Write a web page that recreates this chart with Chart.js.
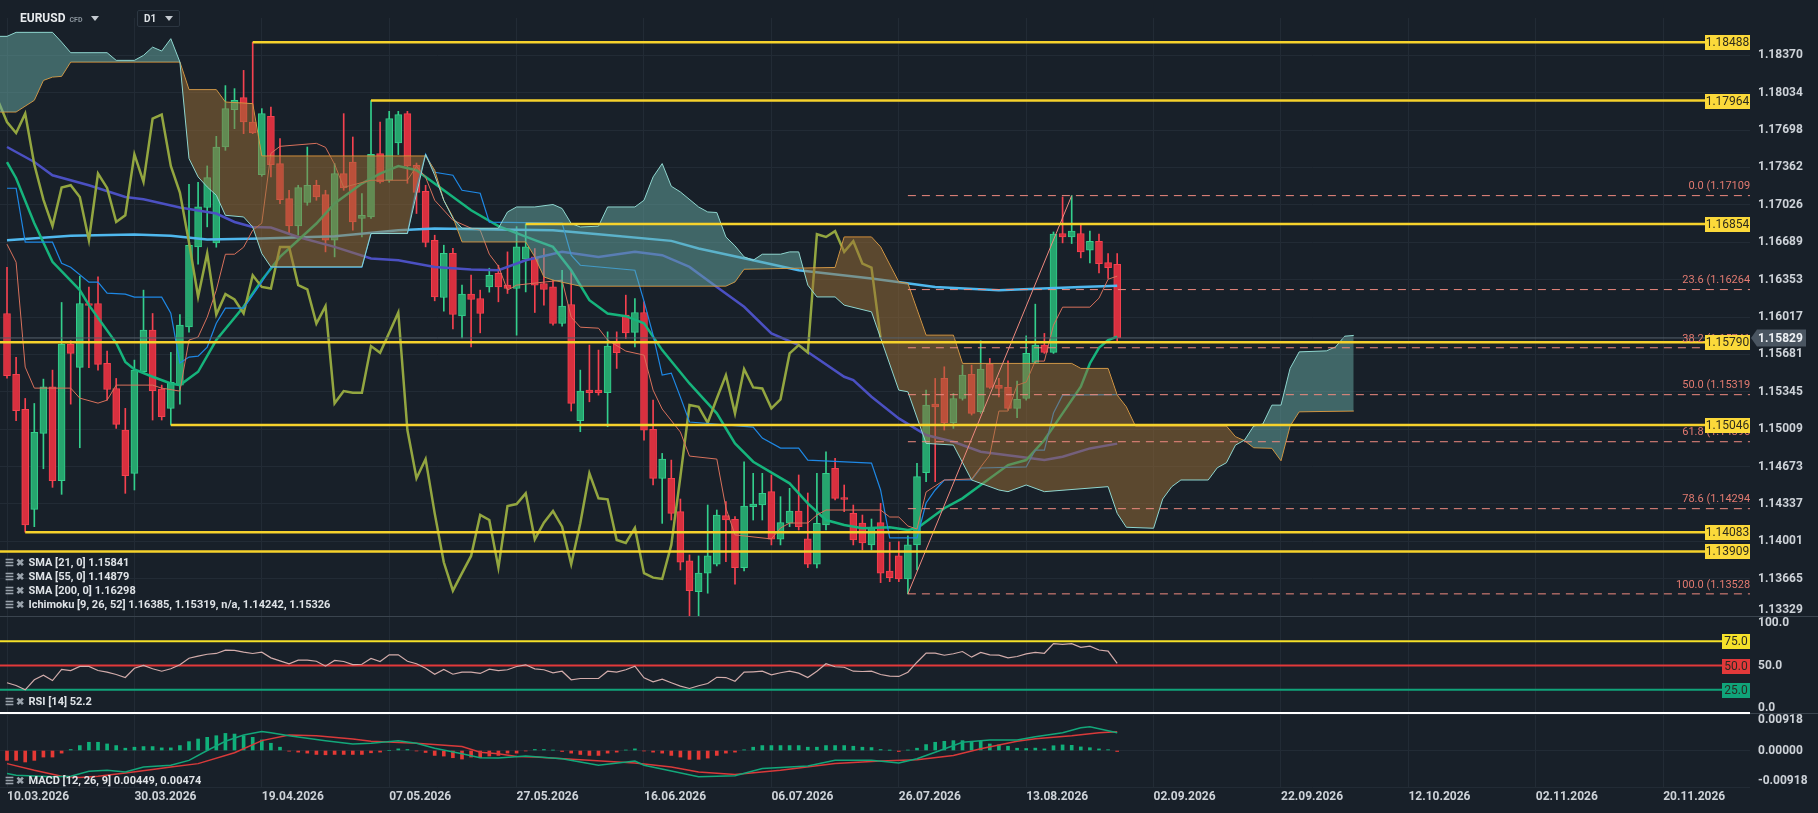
<!DOCTYPE html>
<html>
<head>
<meta charset="utf-8">
<title>EURUSD D1</title>
<script src="https://cdn.jsdelivr.net/npm/chart.js@4.4.1/dist/chart.umd.min.js"></script>
<style>
  html, body { margin: 0; padding: 0; background: #182029; }
  body { width: 1818px; height: 813px; position: relative; overflow: hidden; font-family: Roboto, "Noto Sans", sans-serif; }
  .pane { position: absolute; left: 0; width: 1818px; }
  #mainPane { top: 0; height: 616px; }
  #rsiPane { top: 617px; height: 97px; }
  #macdPane { top: 714px; height: 99px; }
  .sep { position: absolute; height: 1px; background: #3a444e; }
  .legend { position: absolute; left: 5px; font-size: 11px; font-weight: bold; color: #dfe3e7; line-height: 14px; white-space: nowrap; }
  .legend .ico { color: #9aa3ac; font-size: 10px; margin-right: 4px; }
  #symbol { position: absolute; left: 20px; top: 11px; font-size: 12px; font-weight: bold; color: #e8ebee; }
  #symbol small { font-size: 7px; color: #8b949d; margin-left: 4px; }
  .caret { display: inline-block; width: 0; height: 0; border-left: 4px solid transparent; border-right: 4px solid transparent; border-top: 5px solid #c5cbd1; vertical-align: middle; }
  #tf { position: absolute; left: 137px; top: 10px; width: 41px; height: 15px; border: 1px solid #2c3641; border-radius: 2px; font-size: 10px; font-weight: bold; color: #dfe3e7; line-height: 15px; }
</style>
</head>
<body>
<div class="pane" id="mainPane"><canvas id="mainChart"></canvas></div>
<div class="pane" id="rsiPane"><canvas id="rsiChart"></canvas></div>
<div class="pane" id="macdPane"><canvas id="macdChart"></canvas></div>
<div class="sep" style="left:0;top:616px;width:1818px"></div>
<div class="sep" style="left:1750px;top:713px;width:68px"></div>

<div id="symbol">EURUSD<small>CFD</small><span class="caret" style="margin-left:9px"></span></div>
<div id="tf"><span style="margin-left:6px">D1</span><span class="caret" style="position:absolute;right:6px;top:5px"></span></div>

<div class="legend" style="top:556px"><span class="ico">☰ ✖</span>SMA [21, 0] 1.15841</div>
<div class="legend" style="top:570px"><span class="ico">☰ ✖</span>SMA [55, 0] 1.14879</div>
<div class="legend" style="top:584px"><span class="ico">☰ ✖</span>SMA [200, 0] 1.16298</div>
<div class="legend" style="top:598px"><span class="ico">☰ ✖</span>Ichimoku [9, 26, 52] 1.16385, 1.15319, n/a, 1.14242, 1.15326</div>
<div class="legend" style="top:695px"><span class="ico">☰ ✖</span>RSI [14] 52.2</div>
<div class="legend" style="top:774px"><span class="ico">☰ ✖</span>MACD [12, 26, 9] 0.00449, 0.00474</div>

<script>
// ---- data ----
const dateLabels = ['10.03.2026', '30.03.2026', '19.04.2026', '07.05.2026', '27.05.2026', '16.06.2026', '06.07.2026',
  '26.07.2026', '13.08.2026', '02.09.2026', '22.09.2026', '12.10.2026', '02.11.2026', '20.11.2026'];

const opens = [
  1.16049, 1.15501, 1.15187, 1.14288, 1.14971, 1.15390, 1.14546, 1.15774, 1.15564, 1.16139,
  1.16139, 1.15600, 1.15375, 1.15001, 1.14611, 1.15525, 1.15899, 1.15369, 1.15196, 1.15405,
  1.15929, 1.16647, 1.17002, 1.16684, 1.17546, 1.17882, 1.17990, 1.17771, 1.17298, 1.17822,
  1.17397, 1.17082, 1.16836, 1.17047, 1.17202, 1.17118, 1.16708, 1.17307, 1.17411, 1.16903,
  1.16917, 1.17487, 1.17247, 1.17582, 1.17846, 1.17382, 1.17148, 1.16708, 1.16193, 1.16589,
  1.16028, 1.16223, 1.16184, 1.16288, 1.16411, 1.16304, 1.16274, 1.16537, 1.16558, 1.16319,
  1.16288, 1.15959, 1.16130, 1.15085, 1.15360, 1.15360, 1.15336, 1.15785, 1.16034, 1.15879,
  1.16058, 1.15007, 1.14567, 1.14567, 1.14267, 1.13824, 1.13548, 1.13714, 1.13794, 1.14231,
  1.14199, 1.13764, 1.14312, 1.14327, 1.14447, 1.14019, 1.14163, 1.14273, 1.14022, 1.13794,
  1.14147, 1.14657, 1.14393, 1.14253, 1.14165, 1.13968, 1.14168, 1.13734, 1.13869, 1.13662,
  1.13968, 1.14618, 1.15234, 1.15465, 1.15067, 1.15285, 1.15501, 1.15166, 1.15591, 1.15402,
  1.15384, 1.15196, 1.15285, 1.15609, 1.15765, 1.15699, 1.16768, 1.16737, 1.16768, 1.16618,
  1.16699, 1.16507, 1.16492];
const highs = [
  1.16465, 1.15654, 1.15285, 1.15240, 1.15459, 1.15540, 1.16148, 1.15804, 1.16384, 1.16286,
  1.16378, 1.15711, 1.15465, 1.15196, 1.15630, 1.16259, 1.16049, 1.15405, 1.15699, 1.16040,
  1.17211, 1.17229, 1.17376, 1.17642, 1.18098, 1.18071, 1.18235, 1.18488, 1.17891, 1.17905,
  1.17621, 1.17157, 1.17202, 1.17546, 1.17247, 1.17157, 1.17397, 1.17846, 1.17636, 1.17127,
  1.17964, 1.17771, 1.17867, 1.17867, 1.17867, 1.17402, 1.17202, 1.16753, 1.16663, 1.16636,
  1.16304, 1.16394, 1.16259, 1.16456, 1.16483, 1.16603, 1.16830, 1.16854, 1.16633, 1.16633,
  1.16349, 1.16438, 1.16438, 1.15540, 1.15765, 1.15720, 1.15884, 1.15884, 1.16214, 1.16184,
  1.16154, 1.15270, 1.14791, 1.14731, 1.14381, 1.13878, 1.13869, 1.14327, 1.14282, 1.14357,
  1.14222, 1.14716, 1.14612, 1.14612, 1.14597, 1.14402, 1.14477, 1.14597, 1.14435, 1.14612,
  1.14806, 1.14747, 1.14507, 1.14327, 1.14237, 1.14201, 1.14342, 1.13992, 1.13998, 1.14049,
  1.14702, 1.15360, 1.15465, 1.15570, 1.15330, 1.15585, 1.15585, 1.15804, 1.15645, 1.15465,
  1.15624, 1.15441, 1.15848, 1.16133, 1.15870, 1.16782, 1.17097, 1.17109, 1.16858, 1.16789,
  1.16762, 1.16588, 1.16588];
const lows = [
  1.15468, 1.15085, 1.14083, 1.14132, 1.14653, 1.14486, 1.14423, 1.15234, 1.14842, 1.15561,
  1.15540, 1.15270, 1.15016, 1.14432, 1.14462, 1.15513, 1.15091, 1.15091, 1.15046, 1.15234,
  1.15882, 1.16492, 1.16828, 1.16645, 1.17516, 1.17711, 1.17666, 1.17666, 1.17283, 1.17277,
  1.17037, 1.16768, 1.16753, 1.17022, 1.17067, 1.16603, 1.16558, 1.17157, 1.16798, 1.16738,
  1.16905, 1.17220, 1.17229, 1.17478, 1.17220, 1.16948, 1.16648, 1.16163, 1.16070, 1.15911,
  1.15830, 1.15749, 1.15875, 1.16241, 1.16154, 1.16229, 1.15854, 1.16243, 1.16058, 1.16124,
  1.15944, 1.15935, 1.15172, 1.14986, 1.15255, 1.15315, 1.15031, 1.15555, 1.15825, 1.15749,
  1.14911, 1.14507, 1.14162, 1.14192, 1.13743, 1.13330, 1.13330, 1.13534, 1.13779, 1.13818,
  1.13615, 1.13734, 1.14192, 1.14192, 1.13968, 1.13968, 1.14132, 1.14102, 1.13764, 1.13761,
  1.14102, 1.14372, 1.14267, 1.13968, 1.13923, 1.13923, 1.13629, 1.13638, 1.13638, 1.13528,
  1.13743, 1.14537, 1.14537, 1.15001, 1.15016, 1.15270, 1.15136, 1.15151, 1.15375, 1.15300,
  1.15181, 1.15112, 1.15270, 1.15600, 1.15690, 1.15690, 1.16684, 1.16678, 1.16549, 1.16504,
  1.16414, 1.16364, 1.15785];
const closes = [
  1.15489, 1.15175, 1.14147, 1.14980, 1.15390, 1.14546, 1.15774, 1.15690, 1.16139, 1.16121,
  1.15591, 1.15366, 1.15052, 1.14590, 1.15540, 1.15899, 1.15354, 1.15121, 1.15429, 1.15944,
  1.16663, 1.17007, 1.17271, 1.17546, 1.17891, 1.17966, 1.17771, 1.17672, 1.17846, 1.17388,
  1.17073, 1.16836, 1.17181, 1.17202, 1.17097, 1.16708, 1.17307, 1.17178, 1.16872, 1.16932,
  1.17480, 1.17232, 1.17801, 1.17837, 1.17375, 1.17137, 1.16687, 1.16199, 1.16589, 1.16040,
  1.16223, 1.16175, 1.16049, 1.16393, 1.16288, 1.16274, 1.16648, 1.16648, 1.16304, 1.16265,
  1.15959, 1.16115, 1.15241, 1.15351, 1.15336, 1.15336, 1.15756, 1.15696, 1.15875, 1.16058,
  1.15001, 1.14567, 1.14740, 1.14252, 1.13812, 1.13557, 1.13714, 1.13869, 1.14237, 1.14192,
  1.13764, 1.14318, 1.14336, 1.14432, 1.14019, 1.14168, 1.14273, 1.14132, 1.13794, 1.14163,
  1.14612, 1.14387, 1.14378, 1.14013, 1.13986, 1.14121, 1.13714, 1.13674, 1.13662, 1.13968,
  1.14582, 1.15226, 1.15210, 1.15067, 1.15285, 1.15495, 1.15151, 1.15549, 1.15384, 1.15375,
  1.15196, 1.15277, 1.15690, 1.15765, 1.15699, 1.16762, 1.16737, 1.16789, 1.16603, 1.16699,
  1.16498, 1.16462, 1.15829];

// moving averages and Ichimoku lines: [bar, value]
const sma21 = [[0,1.17411],[1,1.17265],[3,1.16861],[5,1.16513],[8,1.16259],[9,1.16124],[12,1.15783],[13,1.15614],[14,1.15546],
  [16,1.15480],[18,1.15420],[19,1.15405],[21,1.15525],[23,1.15810],[26,1.16109],[28,1.16349],[30,1.16558],[34,1.16858],
  [36,1.17038],[39,1.17217],[41,1.17307],[43,1.17375],[45,1.17337],[48,1.17157],[51,1.16977],[54,1.16834],[58,1.16708],
  [60,1.16648],[62,1.16438],[64,1.16169],[66,1.16049],[68,1.16025],[70,1.15960],[72,1.15720],[75,1.15420],[78,1.15151],
  [80,1.14881],[82,1.14716],[86,1.14522],[88,1.14342],[90,1.14192],[92,1.14147],[94,1.14118],[97,1.14127],[99,1.14102],
  [100,1.14118],[103,1.14298],[105,1.14387],[107,1.14507],[110,1.14686],[112,1.14731],[114,1.14911],[116,1.15151],
  [118,1.15390],[119,1.15600],[120,1.15740],[121,1.15810],[122,1.15841]];
const sma55 = [[0,1.17546],[3,1.17411],[5,1.17292],[9,1.17202],[13,1.17097],[15,1.17076],[19,1.17002],[23,1.16948],[25,1.16872],
  [27,1.16827],[29,1.16822],[32,1.16737],[36,1.16648],[40,1.16543],[43,1.16528],[47,1.16468],[51,1.16445],[54,1.16438],
  [57,1.16528],[61,1.16603],[65,1.16558],[69,1.16603],[72,1.16573],[75,1.16468],[78,1.16288],[81,1.16109],[84,1.15870],
  [87,1.15765],[88,1.15702],[92,1.15480],[93,1.15450],[95,1.15300],[98,1.15106],[101,1.14956],[104,1.14896],[107,1.14806],
  [114,1.14731],[116,1.14761],[119,1.14836],[122,1.14879]];
const sma200 = [[0,1.16708],[7,1.16747],[14,1.16759],[18,1.16747],[22,1.16714],[28,1.16723],[36,1.16744],[43,1.16798],
  [47,1.16813],[54,1.16804],[60,1.16798],[65,1.16762],[73,1.16702],[76,1.16633],[82,1.16528],[87,1.16438],[95,1.16364],
  [102,1.16288],[109,1.16259],[111,1.16265],[118,1.16288],[122,1.16298]];
const tenkan = [[0,1.16672],[1,1.16510],[2,1.15567],[3,1.15378],[7,1.15378],[8,1.15288],[10,1.15243],[11,1.15270],[12,1.15405],
  [16,1.15405],[17,1.15378],[19,1.15351],[20,1.15810],[21,1.15837],[22,1.16016],[23,1.16259],[24,1.16582],[25,1.16582],
  [26,1.16645],[27,1.16798],[28,1.16861],[29,1.17489],[30,1.17552],[34,1.17579],[35,1.17543],[36,1.17391],[37,1.17184],
  [40,1.17247],[44,1.17247],[45,1.17373],[46,1.17274],[47,1.17067],[49,1.16888],[51,1.16816],[52,1.16798],[53,1.16582],
  [54,1.16474],[55,1.16259],[56,1.16304],[61,1.16349],[62,1.16016],[63,1.15926],[65,1.15917],[66,1.15810],[68,1.15711],
  [70,1.15675],[71,1.15360],[72,1.15190],[74,1.14983],[75,1.14767],[78,1.14740],[79,1.14300],[80,1.14058],[84,1.14022],
  [85,1.14120],[86,1.14165],[88,1.14165],[89,1.14237],[90,1.14282],[96,1.14282],[97,1.14219],[98,1.14219],[99,1.14138],
  [100,1.14111],[101,1.14444],[102,1.14498],[103,1.14552],[106,1.14561],[107,1.14669],[108,1.14776],[109,1.15172],
  [110,1.15172],[111,1.15405],[112,1.15432],[113,1.15621],[114,1.15621],[115,1.15944],[116,1.16106],[119,1.16106],
  [120,1.16187],[121,1.16357],[122,1.16385]];
const kijun = [[0,1.17175],[1,1.17175],[2,1.16690],[5,1.16690],[6,1.16501],[7,1.16465],[9,1.16331],[10,1.16331],[11,1.16232],
  [13,1.16223],[14,1.16196],[17,1.16196],[18,1.16052],[19,1.15603],[20,1.15657],[21,1.15666],[22,1.15747],[23,1.15962],
  [24,1.16097],[26,1.16097],[28,1.16331],[29,1.16465],[39,1.16465],[40,1.16771],[44,1.16771],[45,1.17184],[46,1.17481],
  [47,1.17319],[49,1.17292],[50,1.17157],[52,1.17130],[53,1.16870],[61,1.16861],[62,1.16573],[63,1.16483],[69,1.16438],
  [70,1.16160],[71,1.15854],[72,1.15495],[73,1.15513],[74,1.15297],[75,1.15073],[82,1.15028],[83,1.14929],[85,1.14839],
  [87,1.14839],[88,1.14731],[95,1.14704],[96,1.14462],[97,1.14031],[100,1.14031],[101,1.14345],[102,1.14462],[103,1.14552],
  [106,1.14552],[107,1.14660],[112,1.14669],[113,1.14821],[114,1.14821],[115,1.15154],[116,1.15315],[122,1.15319]];
const senkouA = [[-1,1.18541],[0,1.18541],[1,1.18577],[5,1.18577],[6,1.18489],[7,1.18394],[11,1.18394],[12,1.18325],[14,1.18325],
  [15,1.18370],[16,1.18444],[17,1.18409],[18,1.18520],[19,1.18310],[20,1.17442],[21,1.17277],[22,1.17187],[23,1.17112],
  [24,1.16932],[26,1.16917],[27,1.16827],[28,1.16588],[29,1.16468],[39,1.16468],[40,1.16768],[44,1.16768],[46,1.17480],
  [47,1.17292],[48,1.17067],[49,1.16905],[50,1.16816],[54,1.16816],[55,1.16962],[56,1.17007],[58,1.17007],[60,1.17029],
  [61,1.16993],[62,1.16858],[63,1.16827],[65,1.16834],[66,1.17007],[69,1.17007],[70,1.17067],[71,1.17277],[72,1.17397],
  [73,1.17193],[74,1.17142],[76,1.17007],[77,1.16962],[78,1.16957],[79,1.16737],[80,1.16657],[81,1.16558],[82,1.16528],
  [83,1.16582],[85,1.16582],[86,1.16603],[87,1.16603],[88,1.16304],[89,1.16198],[91,1.16198],[92,1.16124],[95,1.16064],
  [98,1.15360],[99,1.15345],[101,1.14881],[104,1.14866],[106,1.14552],[107,1.14522],[109,1.14462],[110,1.14447],
  [112,1.14507],[114,1.14447],[121,1.14492],[122,1.14252],[123,1.14127],[126,1.14118],[127,1.14381],[128,1.14492],
  [129,1.14552],[132,1.14552],[133,1.14662],[134,1.14707],[135,1.14866],[136,1.14911],[137,1.15037],[138,1.15055],
  [139,1.15225],[140,1.15225],[141,1.15555],[142,1.15704],[145,1.15713],[146,1.15749],[147,1.15845],[148,1.15852]];
const senkouB = [[-1,1.17861],[1,1.17861],[3,1.17966],[4,1.18145],[5,1.18175],[6,1.18181],[7,1.18310],[19,1.18310],[20,1.18062],
  [23,1.18062],[24,1.17950],[27,1.17936],[28,1.17465],[46,1.17465],[47,1.17337],[48,1.17067],[49,1.16917],[50,1.16693],
  [57,1.16693],[58,1.16558],[59,1.16378],[60,1.16349],[63,1.16295],[79,1.16295],[80,1.16333],[81,1.16447],[91,1.16463],
  [92,1.16737],[95,1.16737],[96,1.16648],[98,1.16333],[99,1.16319],[101,1.15854],[104,1.15854],[105,1.15600],[117,1.15600],
  [118,1.15555],[121,1.15555],[122,1.15315],[123,1.15210],[124,1.15037],[134,1.15037],[135,1.14941],[136,1.14905],
  [137,1.14842],[139,1.14837],[140,1.14725],[141,1.15037],[142,1.15165],[148,1.15172]];

// drawn levels
const levelPrices = [1.18488, 1.17964, 1.16854, 1.15790, 1.15046, 1.14083, 1.13909];
const levelStartBar = [27, 40, 57, null, 18, 2, null];
const fibRatios = ['0.0', '23.6', '38.2', '50.0', '61.8', '78.6', '100.0'];
const fibPrices = [1.17109, 1.16264, 1.15741, 1.15319, 1.14896, 1.14294, 1.13528];
const fibLowBar = 99, fibHighBar = 117;
const lastPrice = 1.15829;

const priceTicks = ['1.13329', '1.13665', '1.14001', '1.14337', '1.14673', '1.15009', '1.15345', '1.15681',
  '1.16017', '1.16353', '1.16689', '1.17026', '1.17362', '1.17698', '1.18034', '1.18370'];

// RSI and MACD
const rsi = [32.2, 29.4, 24.9, 35.3, 40.0, 34.5, 45.9, 44.8, 49.0, 49.0, 44.8, 43.1, 40.7, 37.6, 47.2, 50.0, 46.6, 44.1, 46.6, 50.7,
  57.5, 59.6, 61.6, 62.4, 65.8, 65.5, 63.7, 62.4, 63.7, 57.9, 54.8, 51.8, 55.5, 55.5, 54.4, 49.3, 55.2, 54.1, 51.0, 51.3,
  57.2, 54.1, 61.0, 61.0, 54.4, 51.8, 47.2, 41.0, 45.9, 41.0, 43.1, 43.1, 41.8, 46.2, 44.8, 45.6, 49.0, 50.7, 46.6, 45.6,
  42.5, 44.1, 35.3, 36.6, 36.6, 36.6, 44.1, 43.1, 45.6, 49.3, 37.3, 33.2, 35.9, 32.2, 28.7, 26.3, 29.1, 31.4, 37.9, 37.6,
  33.8, 43.1, 43.5, 44.1, 40.4, 42.5, 44.1, 42.1, 37.6, 44.1, 51.8, 48.7, 48.2, 44.1, 43.8, 44.1, 40.7, 39.0, 38.7, 43.1,
  53.4, 62.7, 62.7, 60.6, 62.1, 64.4, 58.6, 63.4, 61.0, 60.6, 57.9, 59.3, 62.0, 63.5, 62.6, 72.5, 71.8, 72.6, 68.8, 70.0,
  66.0, 64.8, 52.2];
const rsiLevels = [75, 50, 25, 0];
const rsiTicks = ['0.0', '50.0', '100.0'];
const macdHist = [-0.00248, -0.00248, -0.00289, -0.00248, -0.00165, -0.00165, -0.00066, 0.00025, 0.00124, 0.00207,
  0.00207, 0.00165, 0.00124, 0.00058, 0.00083, 0.00099, 0.00099, 0.00066, 0.00066, 0.00124,
  0.00223, 0.00289, 0.00331, 0.00372, 0.00430, 0.00414, 0.00372, 0.00331, 0.00265, 0.00182,
  0.00083, -0.00017, -0.00041, -0.00066, -0.00099, -0.00108, -0.00099, -0.00099, -0.00099, -0.00099,
  -0.00058, -0.00041, 0.00000, 0.00041, 0.00025, -0.00010, -0.00050, -0.00124, -0.00140, -0.00182,
  -0.00215, -0.00165, -0.00182, -0.00140, -0.00124, -0.00066, -0.00066, -0.00010, 0.00025, 0.00025,
  0.00008, -0.00025, -0.00066, -0.00100, -0.00124, -0.00124, -0.00066, -0.00041, 0.00010, 0.00041,
  -0.00010, -0.00041, -0.00066, -0.00124, -0.00165, -0.00223, -0.00223, -0.00190, -0.00124, -0.00066,
  -0.00041, 0.00017, 0.00083, 0.00124, 0.00124, 0.00124, 0.00124, 0.00124, 0.00083, 0.00083,
  0.00124, 0.00124, 0.00124, 0.00107, 0.00083, 0.00074, 0.00025, 0.00005, -0.00025, 0.00010,
  0.00058, 0.00149, 0.00207, 0.00232, 0.00248, 0.00248, 0.00232, 0.00232, 0.00165, 0.00141,
  0.00107, 0.00058, 0.00050, 0.00060, 0.00040, 0.00120, 0.00140, 0.00130, 0.00090, 0.00070,
  0.00040, 0.00020, -0.00025];
const macdLine = [[0,-0.00578],[1,-0.00620],[5,-0.00662],[7,-0.00645],[9,-0.00521],[11,-0.00496],[13,-0.00538],[15,-0.00414],
  [18,-0.00372],[20,-0.00248],[22,0.00000],[24,0.00231],[26,0.00389],[28,0.00479],[29,0.00446],[31,0.00372],[35,0.00248],
  [38,0.00166],[40,0.00181],[43,0.00248],[45,0.00181],[47,0.00057],[50,-0.00082],[52,-0.00181],[54,-0.00191],[57,-0.00141],
  [61,-0.00206],[65,-0.00372],[69,-0.00265],[70,-0.00372],[76,-0.00662],[80,-0.00637],[83,-0.00454],[88,-0.00389],
  [91,-0.00248],[95,-0.00248],[98,-0.00315],[100,-0.00206],[102,-0.00042],[105,0.00206],[108,0.00265],[111,0.00265],
  [113,0.00347],[116,0.00446],[118,0.00570],[119,0.00595],[120,0.00546],[122,0.00449]];
const macdSignal = [[0,-0.00330],[3,-0.00496],[6,-0.00645],[8,-0.00677],[10,-0.00645],[13,-0.00563],[16,-0.00479],[18,-0.00414],
  [21,-0.00330],[25,-0.00057],[28,0.00248],[31,0.00389],[34,0.00372],[38,0.00290],[40,0.00231],[45,0.00181],[50,0.00099],
  [52,-0.00042],[54,-0.00082],[56,-0.00149],[58,-0.00166],[63,-0.00231],[69,-0.00315],[73,-0.00414],[76,-0.00538],
  [80,-0.00603],[85,-0.00496],[91,-0.00330],[96,-0.00265],[100,-0.00231],[104,-0.00124],[107,0.00042],[111,0.00231],
  [113,0.00298],[117,0.00372],[120,0.00446],[122,0.00474]];
const macdTicks = ['-0.00918', '0.00000', '0.00918'];

// ---- look ----
Chart.defaults.font.family = "Roboto, 'Noto Sans', sans-serif";
const GRID = '#222b35', AXIS_TXT = '#cdd2d8', AXIS_W = 68;
const X_MIN = -0.77, X_MAX = 191.54, LABEL_STEP = 14, CHIKOU_SHIFT = 26;
const UP = '#26a56e', UP_EDGE = '#33cf8c', DOWN = '#d8303f', DOWN_EDGE = '#f5414f';
const YELLOW = '#f6d22c', FIB = '#ef8a7f';

const pts = arr => arr.map(([x, y]) => ({ x, y }));
const line = (data, color, width, extra) => Object.assign({
  type: 'line', data, borderColor: color, borderWidth: width, pointRadius: 0, tension: 0, fill: false
}, extra || {});
const flat = (value, from, color, width, extra) =>
  line([{ x: from == null ? X_MIN : from, y: value }, { x: X_MAX, y: value }], color, width, extra);

function xScale(showLabels) {
  return {
    type: 'linear', min: X_MIN, max: X_MAX, offset: false,
    grid: { color: GRID, drawTicks: false, offset: false },
    border: { display: false },
    afterBuildTicks: s => { s.ticks = dateLabels.map((_, k) => ({ value: k * LABEL_STEP })); },
    ticks: {
      display: showLabels, autoSkip: false, maxRotation: 0, align: 'start', padding: 3,
      color: AXIS_TXT, font: { size: 12, weight: 'bold' },
      callback: v => dateLabels[Math.round(v / LABEL_STEP)]
    },
    afterFit: s => { s.height = showLabels ? 26 : 0; s.paddingLeft = 0; s.paddingRight = 0; }
  };
}

function yScale(labels, min, max, showGrid) {
  const values = labels.map(Number);
  return {
    position: 'right', min, max,
    grid: { display: showGrid, color: GRID, drawTicks: false },
    border: { display: false },
    afterBuildTicks: s => { s.ticks = values.map(v => ({ value: v })); },
    ticks: {
      autoSkip: false, padding: 8, color: AXIS_TXT, font: { size: 12, weight: 'bold', lineHeight: 1 },
      callback: (v, i) => Math.abs(v - min) < 1e-9 ? [labels[i], ''] : Math.abs(v - max) < 1e-9 ? ['', labels[i]] : labels[i]
    },
    afterFit: s => { s.width = AXIS_W; s.paddingTop = 0; s.paddingBottom = 0; }
  };
}

const baseOptions = (padTop, scales) => ({
  responsive: true, maintainAspectRatio: false, animation: false, events: [],
  layout: { padding: { top: padTop, left: 0, right: 0, bottom: 0 } },
  plugins: { legend: { display: false }, tooltip: { enabled: false } },
  scales
});

// ---- main price pane ----
const isUp = i => closes[i] >= opens[i];
const mainSets = [];
levelPrices.forEach((p, k) => mainSets.push(flat(p, levelStartBar[k], YELLOW, 2.5)));
fibPrices.forEach(p => mainSets.push(flat(p, fibLowBar, FIB, 1, { borderDash: [8, 6] })));
mainSets.push(line([{ x: fibLowBar, y: fibPrices[fibPrices.length - 1] }, { x: fibHighBar, y: fibPrices[0] }], FIB, 1));
mainSets.push(flat(lastPrice, null, '#56616c', 1));
const cloudA = line(pts(senkouA), '#8fd6cf', 1);
mainSets.push(cloudA);
const cloudBIndex = mainSets.length;
mainSets.push(line(pts(senkouB), '#e69a3c', 1));
cloudA.fill = { target: cloudBIndex, above: 'rgba(103,171,166,0.5)', below: 'rgba(157,111,54,0.5)' };
mainSets.push(line(pts(tenkan), '#d8715c', 1));
mainSets.push(line(pts(kijun), '#1e88e5', 1.2));
mainSets.push(line(closes.map((c, i) => ({ x: i - CHIKOU_SHIFT, y: c })), '#93a640', 2.5));
mainSets.push(line(pts(sma21), '#16b47c', 2.5));
mainSets.push(line(pts(sma55), '#4b50c2', 2.5));
mainSets.push(line(pts(sma200), '#4fb8ee', 2.5));
mainSets.push({
  type: 'bar', data: opens.map((o, i) => ({ x: i, y: [o, closes[i]] })),
  barThickness: 7, grouped: false, minBarLength: 1, borderWidth: 1, borderSkipped: false,
  backgroundColor: c => isUp(c.dataIndex) ? UP : DOWN,
  borderColor: c => isUp(c.dataIndex) ? UP_EDGE : DOWN_EDGE
});
mainSets.push({
  type: 'bar', data: highs.map((h, i) => ({ x: i, y: [lows[i], h] })),
  barThickness: 1, grouped: false, minBarLength: 1,
  backgroundColor: c => isUp(c.dataIndex) ? UP_EDGE : DOWN_EDGE
});

const mainTags = {
  id: 'mainTags',
  afterDatasetsDraw(chart) {
    const { ctx, chartArea: a } = chart;
    const y = chart.scales.y;
    ctx.save();
    ctx.beginPath(); ctx.rect(a.left, a.top, a.right - a.left, a.bottom - a.top); ctx.clip();
    ctx.font = '11px Roboto'; ctx.fillStyle = '#e27a70'; ctx.textAlign = 'right'; ctx.textBaseline = 'middle';
    fibRatios.forEach((r, k) => ctx.fillText(r + ' (' + fibPrices[k].toFixed(5) + ')', a.right + 4, y.getPixelForValue(fibPrices[k]) - 9));
    ctx.restore();

    ctx.save();
    ctx.font = '12px Roboto'; ctx.textAlign = 'center'; ctx.textBaseline = 'middle';
    levelPrices.forEach(p => {
      const py = Math.round(y.getPixelForValue(p));
      ctx.fillStyle = '#fbd93a'; ctx.fillRect(a.right - 45, py - 7, 45, 15);
      ctx.fillStyle = '#2e2b1d'; ctx.fillText(p.toFixed(5), a.right - 22.5, py + 1);
    });
    const cy = Math.round(y.getPixelForValue(lastPrice));
    ctx.fillStyle = '#4a5561';
    ctx.beginPath();
    ctx.moveTo(a.right + 1, cy); ctx.lineTo(a.right + 7, cy - 8.5); ctx.lineTo(a.right + 56, cy - 8.5);
    ctx.lineTo(a.right + 56, cy + 8.5); ctx.lineTo(a.right + 7, cy + 8.5); ctx.closePath(); ctx.fill();
    ctx.fillStyle = '#eef1f4'; ctx.font = 'bold 12px Roboto'; ctx.textAlign = 'left';
    ctx.fillText(lastPrice.toFixed(5), a.right + 8, cy + 1);
    ctx.restore();
  }
};

new Chart(document.getElementById('mainChart'), {
  type: 'line',
  data: { datasets: mainSets },
  options: baseOptions(18, {
    x: xScale(false),
    y: yScale(priceTicks, Number(priceTicks[0]), 1.18706, true)
  }),
  plugins: [mainTags]
});

// ---- RSI pane ----
const rsiColors = ['#f5e12a', '#e2393a', '#10a37a', '#ffffff'];
const rsiWidths = [2, 2, 2, 4];
const rsiSets = [line(rsi.map((v, i) => ({ x: i, y: v })), '#d2acab', 1.2)];
rsiLevels.forEach((lv, k) => rsiSets.push(flat(lv, null, rsiColors[k], rsiWidths[k])));

const rsiTags = {
  id: 'rsiTags',
  afterDatasetsDraw(chart) {
    const { ctx, chartArea: a } = chart;
    const y = chart.scales.y;
    ctx.save();
    ctx.font = '12px Roboto'; ctx.textAlign = 'center'; ctx.textBaseline = 'middle';
    rsiLevels.slice(0, 3).forEach((lv, k) => {
      const py = Math.round(y.getPixelForValue(lv));
      ctx.fillStyle = rsiColors[k]; ctx.fillRect(a.right - 28, py - 7, 28, 15);
      ctx.fillStyle = '#2a2a22'; ctx.fillText(lv.toFixed(1), a.right - 14, py + 1);
    });
    ctx.restore();
  }
};

new Chart(document.getElementById('rsiChart'), {
  type: 'line',
  data: { datasets: rsiSets },
  options: baseOptions(0, { x: xScale(false), y: yScale(rsiTicks, 0, 100, false) }),
  plugins: [rsiTags]
});

// ---- MACD pane ----
new Chart(document.getElementById('macdChart'), {
  type: 'line',
  data: {
    datasets: [
      line(pts(macdLine), '#13a77a', 1.5),
      line(pts(macdSignal), '#d93a3a', 1.5),
      {
        type: 'bar', data: macdHist.map((v, i) => ({ x: i, y: v })),
        barThickness: 3, grouped: false,
        backgroundColor: c => (macdHist[c.dataIndex] >= 0 ? '#10b07a' : '#e53935')
      }
    ]
  },
  options: baseOptions(0, { x: xScale(true), y: yScale(macdTicks, -0.00918, 0.00918, true) })
});
</script>
</body>
</html>
